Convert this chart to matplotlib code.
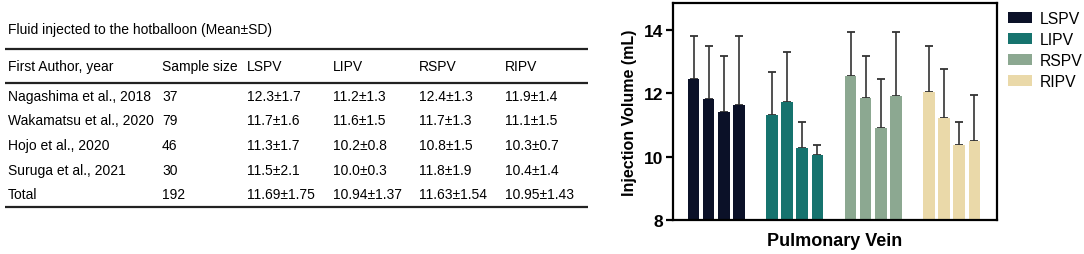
import matplotlib
matplotlib.use("Agg")
import matplotlib.pyplot as plt
import numpy as np

plt.rcParams['font.family'] = ['Liberation Sans', 'DejaVu Sans']

# table data
title = "Fluid injected to the hotballoon (Mean\u00b1SD)"
headers = ["First Author, year", "Sample size", "LSPV", "LIPV", "RSPV", "RIPV"]
authors = ["Nagashima et al., 2018", "Wakamatsu et al., 2020", "Hojo et al., 2020",
           "Suruga et al., 2021", "Total"]
sample_size = ["37", "79", "46", "30", "192"]
lspv_txt = ["12.3\u00b11.7", "11.7\u00b11.6", "11.3\u00b11.7", "11.5\u00b12.1", "11.69\u00b11.75"]
lipv_txt = ["11.2\u00b11.3", "11.6\u00b11.5", "10.2\u00b10.8", "10.0\u00b10.3", "10.94\u00b11.37"]
rspv_txt = ["12.4\u00b11.3", "11.7\u00b11.3", "10.8\u00b11.5", "11.8\u00b11.9", "11.63\u00b11.54"]
ripv_txt = ["11.9\u00b11.4", "11.1\u00b11.5", "10.3\u00b10.7", "10.4\u00b11.4", "10.95\u00b11.43"]

# bar chart data
veins = ["LSPV", "LIPV", "RSPV", "RIPV"]
lspv_mean = [12.44, 11.83, 11.41, 11.62]
lspv_sd = [1.38, 1.66, 1.77, 2.20]
lipv_mean = [11.31, 11.72, 10.27, 10.06]
lipv_sd = [1.36, 1.58, 0.83, 0.32]
rspv_mean = [12.56, 11.84, 10.91, 11.93]
rspv_sd = [1.36, 1.35, 1.54, 1.99]
ripv_mean = [12.03, 11.21, 10.38, 10.48]
ripv_sd = [1.47, 1.57, 0.72, 1.47]
colors = ["#0b1128", "#16736e", "#8ca891", "#ead9a9"]

fig = plt.figure(figsize=(10.84, 2.55), dpi=100)

# ---- table, drawn in pixel coords ----
tax = fig.add_axes([0, 0, 1, 1])
tax.set_xlim(0, 1084)
tax.set_ylim(255, 0)
tax.axis('off')

fs = 10
tax.text(8, 30, title, fontsize=fs, va='center')
for yy in (50, 84, 208):
    tax.plot([5, 588], [yy, yy], color='#222222', lw=1.6, solid_capstyle='butt')

col_x = [8, 162, 247, 333, 419, 505]
for x, h in zip(col_x, headers):
    tax.text(x, 67, h, fontsize=fs, va='center')

row_y = [97, 121, 146, 171, 195]
cols = [authors, sample_size, lspv_txt, lipv_txt, rspv_txt, ripv_txt]
for x, col in zip(col_x, cols):
    for y, s in zip(row_y, col):
        tax.text(x, y, s, fontsize=fs, va='center')

# ---- bar chart ----
ax = fig.add_axes([673 / 1084, 34 / 255, 324 / 1084, 217 / 255])
means = [lspv_mean, lipv_mean, rspv_mean, ripv_mean]
sds = [lspv_sd, lipv_sd, rspv_sd, ripv_sd]
group_step = 5.2
for g, (m, s) in enumerate(zip(means, sds)):
    x = g * group_step + np.arange(len(m))
    ax.bar(x, m, width=0.77, color=colors[g], label=veins[g], zorder=2)
    ax.errorbar(x, m, yerr=[np.zeros(len(s)), s], fmt='none', ecolor='#333333',
                elinewidth=1.2, capsize=3, capthick=1.3, zorder=1)

ax.set_ylim(8, 14.85)
ax.set_xlim(-1.36, 20.1)
ax.set_yticks([8, 10, 12, 14])
ax.set_xticks([])
for sp in ax.spines.values():
    sp.set_linewidth(1.6)
    sp.set_color('black')
ax.tick_params(axis='y', length=5, width=1.6, labelsize=12.5, pad=2)
for lab in ax.get_yticklabels():
    lab.set_fontweight('bold')
ax.set_ylabel("Injection Volume (mL)", fontsize=11.5, fontweight='bold', labelpad=5)
ax.set_xlabel("Pulmonary Vein", fontsize=13, fontweight='bold', labelpad=9)

ax.legend(loc='upper left', bbox_to_anchor=(1.034, 0.965), frameon=False, fontsize=11.3,
          handlelength=1.55, handleheight=0.7, handletextpad=0.5, labelspacing=0.4,
          borderpad=0, borderaxespad=0)

fig.savefig("out.png", dpi=100)
